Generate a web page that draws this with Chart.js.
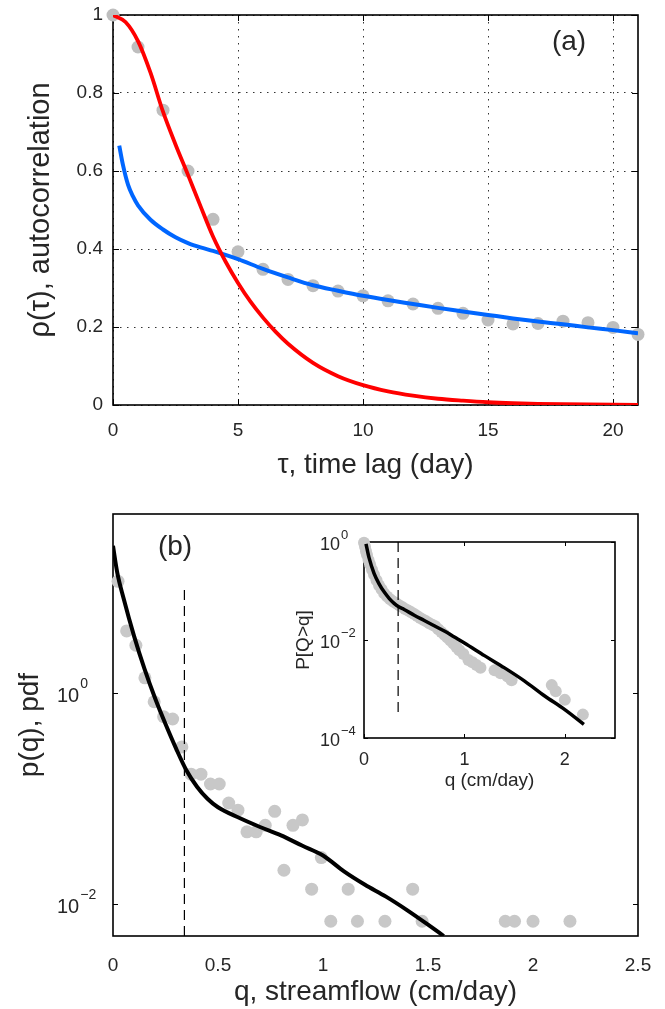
<!DOCTYPE html>
<html>
<head>
<meta charset="utf-8">
<script src="https://cdn.jsdelivr.net/npm/chart.js@4.4.1/dist/chart.umd.min.js"></script>
<style>
  html, body { margin: 0; padding: 0; background: #fff; }
  #wrap { position: relative; width: 665px; height: 1009px; }
  canvas { position: absolute; }
</style>
</head>
<body>
<div id="wrap">
  <canvas id="acf" width="665" height="490" style="left:0;top:0"></canvas>
  <canvas id="pdf" width="665" height="519" style="left:0;top:490px"></canvas>
  <canvas id="cdf" width="340" height="270" style="left:290px;top:530px"></canvas>
</div>
<script>
// ---- panel (a): autocorrelation ----
const lagDays = [0, 1, 2, 3, 4, 5, 6, 7, 8, 9, 10, 11, 12, 13, 14, 15, 16, 17, 18, 19, 20, 21];
const acfObserved = [1.0, 0.918, 0.756, 0.600, 0.476, 0.393, 0.348, 0.322, 0.306, 0.292, 0.280,
                     0.267, 0.259, 0.248, 0.235, 0.218, 0.208, 0.209, 0.215, 0.211, 0.199, 0.181];
const redTau = [0, 0.5, 1, 1.5, 2, 2.5, 3, 3.5, 4, 4.5, 5, 5.5, 6, 6.5, 7, 8, 9, 10, 11, 12, 13, 14, 15, 16, 17, 18, 19, 20, 21];
const redRho = [1.0, 0.982, 0.933, 0.852, 0.752, 0.668, 0.59, 0.51, 0.432, 0.368, 0.313, 0.265, 0.224, 0.188, 0.157,
                0.108, 0.074, 0.051, 0.035, 0.024, 0.016, 0.011, 0.007, 0.0045, 0.003, 0.002, 0.0013, 0.0008, 0.0005];
const blueTau = [0.25, 0.4, 0.6, 0.8, 1, 1.5, 2, 2.5, 3, 3.5, 4, 4.5, 5, 6, 7, 8, 9, 10, 11, 12, 13, 14, 15, 16, 17, 18, 19, 20, 21];
const blueRho = [0.665, 0.615, 0.565, 0.535, 0.512, 0.475, 0.45, 0.43, 0.415, 0.404, 0.395, 0.385, 0.374, 0.349, 0.327,
                 0.307, 0.293, 0.280, 0.269, 0.259, 0.249, 0.240, 0.231, 0.222, 0.214, 0.207, 0.199, 0.192, 0.184];
const lagTicks = [0, 5, 10, 15, 20];
const rhoTicks = [0, 0.2, 0.4, 0.6, 0.8, 1];

// ---- panel (b): streamflow pdf ----
const binQ = [0.024, 0.065, 0.109, 0.152, 0.196, 0.241, 0.284, 0.328, 0.372, 0.419, 0.464, 0.506, 0.551, 0.595,
              0.638, 0.682, 0.725, 0.770, 0.814, 0.857, 0.902, 0.946, 0.992, 1.037, 1.120, 1.164, 1.295, 1.427,
              1.472, 1.868, 1.912, 2.000, 2.176];
const binPdf = [11.5, 3.9, 2.85, 1.4, 0.83, 0.60, 0.57, 0.31, 0.171, 0.171, 0.138, 0.138, 0.091, 0.078,
                0.0486, 0.0486, 0.056, 0.076, 0.021, 0.056, 0.063, 0.0139, 0.0277, 0.0069, 0.0139, 0.0069, 0.0069, 0.0139,
                0.0069, 0.0069, 0.0069, 0.0069, 0.0069];
const fitQ = [0, 0.02, 0.05, 0.1, 0.15, 0.2, 0.25, 0.3, 0.35, 0.4, 0.45, 0.5, 0.6, 0.7, 0.8, 0.9, 1.0, 1.1, 1.2, 1.3, 1.4, 1.5, 1.575];
const fitPdf = [25, 14, 8, 3.5, 1.7, 0.9, 0.51, 0.30, 0.185, 0.13, 0.10, 0.083, 0.066, 0.054, 0.045, 0.036, 0.029,
                0.0205, 0.0153, 0.0118, 0.0088, 0.0064, 0.005];
const thresholdQ = 0.34;
const dashPdf = [0.005, 10.5];
const qTicks = [0, 0.5, 1, 1.5, 2, 2.5];
const pdfTicks = [1, 0.01];

// ---- inset: exceedance probability ----
const exceedQ = [0.00, 0.01, 0.02, 0.03, 0.045, 0.06, 0.08, 0.10, 0.125, 0.15, 0.175, 0.20, 0.23, 0.26, 0.29, 0.32,
                 0.35, 0.38, 0.41, 0.44, 0.47, 0.50, 0.53, 0.56, 0.59, 0.62, 0.65, 0.68, 0.71, 0.74, 0.77, 0.80,
                 0.83, 0.86, 0.89, 0.92, 0.95, 0.99, 1.04, 1.08, 1.12, 1.16, 1.30, 1.36, 1.43, 1.47, 1.87, 1.91, 2.00, 2.18];
const exceedP = [0.97, 0.80, 0.65, 0.54, 0.43, 0.35, 0.27, 0.215, 0.165, 0.13, 0.108, 0.09, 0.077, 0.068, 0.061, 0.056,
                 0.051, 0.047, 0.043, 0.040, 0.037, 0.034, 0.031, 0.028, 0.026, 0.024, 0.022, 0.0205, 0.019, 0.0165, 0.0145, 0.0128,
                 0.0112, 0.0098, 0.0085, 0.0072, 0.0062, 0.0052, 0.0039, 0.0035, 0.0031, 0.0027, 0.0024, 0.0021, 0.0018, 0.0015,
                 0.0012, 0.0009, 0.0006, 0.0003];
const exceedFitQ = [0.02, 0.05, 0.1, 0.15, 0.2, 0.25, 0.3, 0.35, 0.4, 0.5, 0.6, 0.7, 0.8, 0.9, 1.0, 1.2, 1.4, 1.6, 1.8, 2.0, 2.19];
const exceedFitP = [0.92, 0.48, 0.23, 0.14, 0.096, 0.071, 0.056, 0.047, 0.042, 0.032, 0.025, 0.0195, 0.0152, 0.0115,
                    0.0087, 0.0048, 0.0027, 0.00145, 0.00072, 0.00038, 0.00019];
const dashExceed = [1, 0.0003];
const insetQTicks = [0, 1, 2];
const insetPTicks = [1, 0.01, 0.0001];

const FONT = "'Liberation Sans', Arial, Helvetica, sans-serif";
const INK = '#262626';
Chart.defaults.font.family = FONT;
Chart.defaults.color = INK;

const pts = (xs, ys) => xs.map((x, i) => ({x: x, y: ys[i]}));
const fixTicks = vals => s => { s.ticks = vals.map(v => ({value: v})); };

// MATLAB style box with inward ticks, drawn beneath the data
const boxPlugin = {
  id: 'box',
  beforeDatasetsDraw(chart, args, o) {
    const {ctx, chartArea: a, scales: {x, y}} = chart;
    ctx.save();
    if (o.fill) { ctx.fillStyle = '#fff'; ctx.fillRect(a.left, a.top, a.right - a.left, a.bottom - a.top); }
    ctx.strokeStyle = '#000';
    ctx.lineWidth = 1;
    ctx.beginPath();
    if (o.xLen) x.ticks.forEach(t => {
      const px = Math.round(x.getPixelForValue(t.value)) + 0.5;
      ctx.moveTo(px, a.bottom); ctx.lineTo(px, a.bottom - o.xLen);
      ctx.moveTo(px, a.top); ctx.lineTo(px, a.top + o.xLen);
    });
    if (o.yLen) y.ticks.forEach(t => {
      const py = Math.round(y.getPixelForValue(t.value)) + 0.5;
      ctx.moveTo(a.left, py); ctx.lineTo(a.left + o.yLen, py);
      ctx.moveTo(a.right, py); ctx.lineTo(a.right - o.yLen, py);
    });
    ctx.stroke();
    ctx.lineWidth = 1.6;
    ctx.strokeRect(a.left, a.top, a.right - a.left, a.bottom - a.top);
    ctx.restore();
  }
};

// 10^n tick labels for the log axes
const powerLabels = {
  id: 'powerLabels',
  afterDraw(chart, args, o) {
    const {ctx, scales: {y}} = chart;
    ctx.save();
    ctx.fillStyle = INK;
    ctx.textBaseline = 'middle';
    ctx.textAlign = 'left';
    y.ticks.forEach(t => {
      const py = y.getPixelForValue(t.value);
      const e = Math.round(Math.log10(t.value));
      ctx.font = o.size + 'px ' + FONT;
      ctx.fillText('10', o.x, py + o.dy);
      const w = ctx.measureText('10').width;
      ctx.font = o.sup + 'px ' + FONT;
      ctx.fillText(e < 0 ? '\u2212' + (-e) : String(e), o.x + w + 1, py + o.dy - o.rise);
    });
    ctx.restore();
  }
};

const tagPlugin = {
  id: 'tag',
  afterDraw(chart, args, o) {
    if (!o.text) return;
    const ctx = chart.ctx;
    ctx.save();
    ctx.fillStyle = INK;
    ctx.font = o.size + 'px ' + FONT;
    ctx.textAlign = 'center';
    ctx.textBaseline = 'middle';
    ctx.fillText(o.text, o.x, o.y);
    ctx.restore();
  }
};

const base = {
  responsive: false, animation: false, devicePixelRatio: 1, events: []
};
const noGrid = {display: false};
const noBorder = {display: false};

// (a) -- label gap comes from an invisible tick so the layout keeps the plot top at 15px
const gridAx = {color: '#333', lineWidth: 1, drawTicks: true, tickLength: 14, tickColor: 'rgba(0,0,0,0)'};
const gridAy = {color: '#333', lineWidth: 1, drawTicks: true, tickLength: 10, tickColor: 'rgba(0,0,0,0)'};
const borderA = {display: false, dash: [1.5, 5.5]};
new Chart(document.getElementById('acf'), {
  type: 'line',
  data: {datasets: [
    {data: pts(redTau, redRho), borderColor: '#ff0000', borderWidth: 3.8, pointRadius: 0, cubicInterpolationMode: 'monotone', order: 0},
    {data: pts(blueTau, blueRho), borderColor: '#0066ff', borderWidth: 4, pointRadius: 0, cubicInterpolationMode: 'monotone', order: 1},
    {data: pts(lagDays, acfObserved), showLine: false, pointRadius: 6.5, pointBackgroundColor: '#bebebe', pointBorderWidth: 0, clip: false, order: 2}
  ]},
  options: Object.assign({}, base, {
    layout: {padding: {left: 0, top: 15, right: 27, bottom: 0}},
    plugins: {legend: {display: false}, tooltip: {enabled: false},
              box: {xLen: 6, yLen: 6}, tag: {text: '(a)', x: 569, y: 42, size: 28}},
    scales: {
      x: {type: 'linear', min: 0, max: 21, afterBuildTicks: fixTicks(lagTicks), afterFit: s => { s.height = 85; },
          grid: gridAx, border: borderA,
          ticks: {padding: 0, font: {size: 19}, color: INK, maxRotation: 0, autoSkip: false, callback: v => String(v)},
          title: {display: true, text: 'τ, time lag (day)', font: {size: 28}, color: INK, padding: {top: 0, bottom: 8}}},
      y: {type: 'linear', min: 0, max: 1, afterBuildTicks: fixTicks(rhoTicks), afterFit: s => { s.width = 113; },
          grid: gridAy, border: borderA,
          ticks: {padding: 0, font: {size: 19}, color: INK, autoSkip: false, callback: v => String(v)},
          title: {display: true, text: 'ρ(τ), autocorrelation', font: {size: 29}, color: INK, padding: {top: 24, bottom: 0}}}
    }
  }),
  plugins: [boxPlugin, tagPlugin]
});

// (b)
new Chart(document.getElementById('pdf'), {
  type: 'line',
  data: {datasets: [
    {data: [{x: thresholdQ, y: dashPdf[0]}, {x: thresholdQ, y: dashPdf[1]}], borderColor: '#000', borderWidth: 1.2, borderDash: [10, 6], pointRadius: 0, order: 0},
    {data: pts(fitQ, fitPdf), borderColor: '#000', borderWidth: 4, pointRadius: 0, cubicInterpolationMode: 'monotone', order: 1},
    {data: pts(binQ, binPdf), showLine: false, pointRadius: 6.5, pointBackgroundColor: '#c8c8c8', pointBorderWidth: 0, clip: false, order: 2}
  ]},
  options: Object.assign({}, base, {
    layout: {padding: {left: 0, top: 24, right: 27, bottom: 0}},
    plugins: {legend: {display: false}, tooltip: {enabled: false},
              box: {xLen: 0, yLen: 5}, tag: {text: '(b)', x: 175, y: 57, size: 28},
              powerLabels: {x: 57, size: 20, sup: 14, dy: 3, rise: 12}},
    scales: {
      x: {type: 'linear', min: 0, max: 2.5, afterBuildTicks: fixTicks(qTicks), afterFit: s => { s.height = 73; },
          grid: noGrid, border: noBorder,
          ticks: {padding: 10, font: {size: 19}, color: INK, maxRotation: 0, autoSkip: false, callback: v => String(v)},
          title: {display: true, text: 'q, streamflow (cm/day)', font: {size: 28}, color: INK, padding: {top: 0, bottom: 0}}},
      y: {type: 'logarithmic', min: 0.005, max: 50, afterBuildTicks: fixTicks(pdfTicks), afterFit: s => { s.width = 113; },
          grid: noGrid, border: noBorder, ticks: {display: false},
          title: {display: true, text: 'p(q), pdf', font: {size: 28}, color: INK, padding: {top: 13, bottom: 0}}}
    }
  }),
  plugins: [boxPlugin, tagPlugin, powerLabels]
});

// inset
new Chart(document.getElementById('cdf'), {
  type: 'line',
  data: {datasets: [
    {data: [{x: thresholdQ, y: dashExceed[0]}, {x: thresholdQ, y: dashExceed[1]}], borderColor: '#000', borderWidth: 1.2, borderDash: [10, 6], pointRadius: 0, order: 0},
    {data: pts(exceedFitQ, exceedFitP), borderColor: '#000', borderWidth: 3.5, pointRadius: 0, cubicInterpolationMode: 'monotone', order: 1},
    {data: pts(exceedQ, exceedP), showLine: false, pointRadius: 6, pointBackgroundColor: '#c8c8c8', pointBorderWidth: 0, clip: false, order: 2}
  ]},
  options: Object.assign({}, base, {
    layout: {padding: {left: 0, top: 12, right: 15, bottom: 0}},
    plugins: {legend: {display: false}, tooltip: {enabled: false},
              box: {xLen: 4, yLen: 4, fill: true},
              powerLabels: {x: 30, size: 18, sup: 13, dy: 3, rise: 10}},
    scales: {
      x: {type: 'linear', min: 0, max: 2.5, afterBuildTicks: fixTicks(insetQTicks), afterFit: s => { s.height = 62; },
          grid: noGrid, border: noBorder,
          ticks: {padding: 3, font: {size: 18}, color: INK, maxRotation: 0, autoSkip: false, callback: v => String(v)},
          title: {display: true, text: 'q (cm/day)', font: {size: 19}, color: INK, padding: {top: 0, bottom: 8}}},
      y: {type: 'logarithmic', min: 0.0001, max: 1, afterBuildTicks: fixTicks(insetPTicks), afterFit: s => { s.width = 74; },
          grid: noGrid, border: noBorder, ticks: {display: false},
          title: {display: true, text: 'P[Q>q]', font: {size: 19}, color: INK, padding: {top: 2, bottom: 0}}}
    }
  }),
  plugins: [boxPlugin, powerLabels]
});
</script>
</body>
</html>
